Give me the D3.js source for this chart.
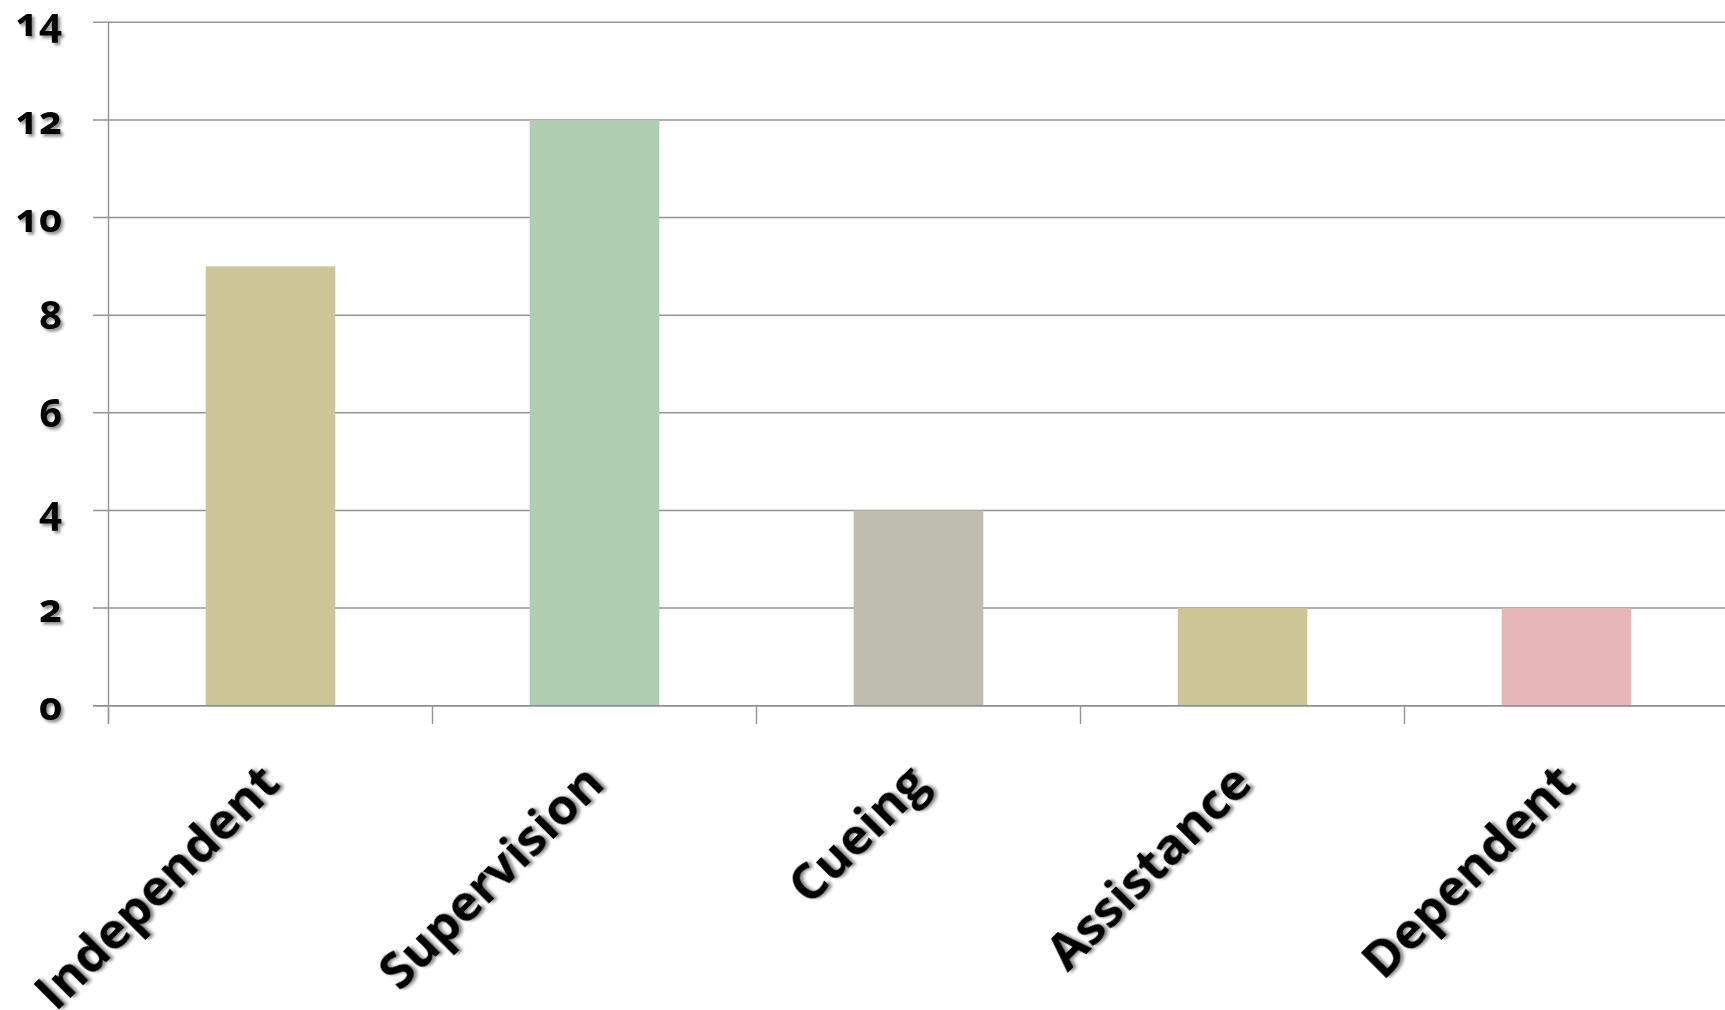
<!DOCTYPE html>
<html>
<head>
<meta charset="utf-8">
<script src="https://cdn.jsdelivr.net/npm/d3@7"></script>
<style>
  html, body { margin: 0; padding: 0; background: #fff; }
  svg { display: block; }
  text { font-family: "Open Sans", "Lato", sans-serif; font-weight: 700; fill: #000; }
  .ylab { font-variant-numeric: oldstyle-nums; font-feature-settings: "onum" 1; }
</style>
</head>
<body>
<script>
const categories = ["Independent", "Supervision", "Cueing", "Assistance", "Dependent"];
const values = [9, 12, 4, 2, 2];
const barColors = ["#CCC595", "#AFCDB0", "#BFBEAE", "#CCC595", "#E7B7B7"];
const yTicks = [0, 2, 4, 6, 8, 10, 12, 14];

const W = 1725, H = 1010;
const svg = d3.select("body").append("svg").attr("width", W).attr("height", H);

const defs = svg.append("defs");
const f = defs.append("filter").attr("id", "shadow").attr("x", "-20%").attr("y", "-20%").attr("width", "140%").attr("height", "140%");
f.append("feDropShadow").attr("dx", 2.5).attr("dy", 2.5).attr("stdDeviation", 1.6)
  .attr("flood-color", "#000").attr("flood-opacity", 0.45);

const x0 = 108.5, x1 = 1728.5;
const y = d3.scaleLinear().domain([0, 14]).range([705.7, 22.3]);
const x = d3.scaleBand().domain(categories).range([x0, x1]).paddingInner(0.6).paddingOuter(0.3);
const step = x.step();

// gridlines
svg.append("g").selectAll("line").data(yTicks).join("line")
  .attr("x1", 93).attr("x2", W)
  .attr("y1", d => y(d)).attr("y2", d => y(d))
  .attr("stroke", "#959595").attr("stroke-width", 1.4);

// bars
svg.append("g").selectAll("rect").data(categories).join("rect")
  .attr("x", d => x(d))
  .attr("width", x.bandwidth())
  .attr("y", (d, i) => y(values[i]))
  .attr("height", (d, i) => y(0) - y(values[i]))
  .attr("fill", (d, i) => barColors[i]);

// zero line on top
svg.append("line").attr("x1", 93).attr("x2", W).attr("y1", y(0)).attr("y2", y(0))
  .attr("stroke", "#8f8f8f").attr("stroke-width", 1.5);

// y axis line
svg.append("line").attr("x1", x0).attr("x2", x0).attr("y1", y(14)).attr("y2", 724)
  .attr("stroke", "#959595").attr("stroke-width", 1.4);

// x ticks at band boundaries
const bounds = d3.range(categories.length + 1).map(i => x0 + i * step);
svg.append("g").selectAll("line").data(bounds).join("line")
  .attr("x1", d => d).attr("x2", d => d).attr("y1", y(0)).attr("y2", 724)
  .attr("stroke", "#959595").attr("stroke-width", 1.4);

// y labels
svg.append("g").selectAll("text").data(yTicks).join("text")
  .attr("class", "ylab")
  .attr("x", 62).attr("y", d => y(d))
  .attr("dy", "0.35em")
  .attr("text-anchor", "end")
  .attr("font-size", 40)
  .attr("filter", "url(#shadow)")
  .text(d => d);

// x labels
svg.append("g").selectAll("text").data(categories).join("text")
  .attr("text-anchor", "end")
  .attr("font-size", 50)
  .attr("transform", d => `translate(${x(d) + x.bandwidth() / 2 + 12},786) rotate(-45)`)
  .attr("filter", "url(#shadow)")
  .text(d => d);
</script>
</body>
</html>
